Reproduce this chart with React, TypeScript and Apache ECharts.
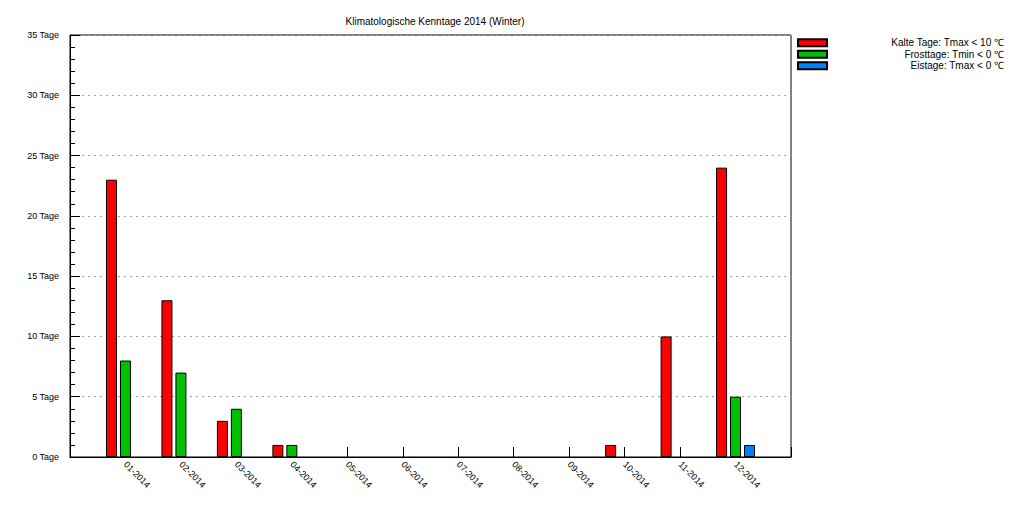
import React, { useEffect, useRef } from "react";
import * as echarts from "echarts";

const months = ["01-2014", "02-2014", "03-2014", "04-2014", "05-2014", "06-2014", "07-2014", "08-2014", "09-2014", "10-2014", "11-2014", "12-2014"];
const kalteTage = [23, 13, 3, 1, 0, 0, 0, 0, 0, 1, 10, 24];
const frosttage = [8, 7, 4, 1, 0, 0, 0, 0, 0, 0, 0, 5];
const eistage = [0, 0, 0, 0, 0, 0, 0, 0, 0, 0, 0, 1];
const seriesNames = ["Kalte Tage: Tmax < 10 \u2103", "Frosttage: Tmin < 0 \u2103", "Eistage: Tmax < 0 \u2103"];
const seriesColors = ["#ff0000", "#00c000", "#0080ff"];
const titleText = "Klimatologische Kenntage 2014 (Winter)";

const FONT = "'Liberation Sans', Arial, sans-serif";

export default function App() {
  const ref = useRef<HTMLDivElement>(null);
  useEffect(() => {
    if (!ref.current) return;
    const chart = echarts.init(ref.current, null, { renderer: "svg" });
    const cats = ["", ...months, ""];
    const pad = (arr: number[]) => [null, ...arr.map((v) => (v === 0 ? null : v)), null];
    const datas = [kalteTage, frosttage, eistage];
    chart.setOption({
      animation: false,
      backgroundColor: "#ffffff",
      textStyle: { fontFamily: FONT },
      title: {
        text: titleText,
        left: 430,
        textAlign: "center",
        top: 11,
        textStyle: { fontSize: 10, fontWeight: "normal", color: "#000", fontFamily: FONT },
      },
      legend: {
        orient: "vertical",
        left: 797,
        top: 37,
        padding: 0,
        itemGap: 0,
        itemWidth: 29,
        itemHeight: 7,
        icon: "rect",
        selectedMode: false,
        data: seriesNames,
        formatter: (n: string) => `{a|${n}}`,
        textStyle: {
          fontSize: 10,
          color: "#000",
          fontFamily: FONT,
          rich: { a: { width: 172, height: 11.5, align: "right", fontSize: 10, lineHeight: 11.5, fontFamily: FONT } },
        },
      },
      grid: {
        left: 70,
        right: 224,
        top: 35,
        bottom: 50,
        show: true,
        borderColor: "#000",
        borderWidth: 1,
        containLabel: false,
      },
      xAxis: {
        type: "category",
        data: cats,
        boundaryGap: false,
        axisLine: { lineStyle: { color: "#000", width: 1 } },
        axisTick: { show: true, inside: true, length: 10, lineStyle: { color: "#000" } },
        axisLabel: { rotate: -45, fontSize: 9, color: "#000", margin: 6, fontFamily: FONT, interval: 0 },
        splitLine: { show: false },
      },
      yAxis: {
        type: "value",
        min: 0,
        max: 35,
        interval: 5,
        axisLine: { show: true, lineStyle: { color: "#000", width: 1 } },
        axisTick: { show: true, inside: true, length: 10, lineStyle: { color: "#000" } },
        minorTick: { show: true, splitNumber: 5, length: 5, lineStyle: { color: "#000" } },
        axisLabel: { formatter: (v: number) => `${v} Tage`, fontSize: 9, color: "#000", margin: 11, fontFamily: FONT },
        splitLine: { show: true, lineStyle: { color: "#a0a0a0", type: [2, 4], width: 1 } },
      },
      series: seriesNames.map((name, i) => ({
        name,
        type: "bar",
        data: pad(datas[i]),
        barWidth: 11,
        barGap: "27%",
        itemStyle: { color: seriesColors[i], borderColor: "#000", borderWidth: 1 },
      })),
    });
    return () => chart.dispose();
  }, []);
  return <div ref={ref} style={{ position: "fixed", left: 0, top: 0, width: 1015, height: 507 }} />;
}
